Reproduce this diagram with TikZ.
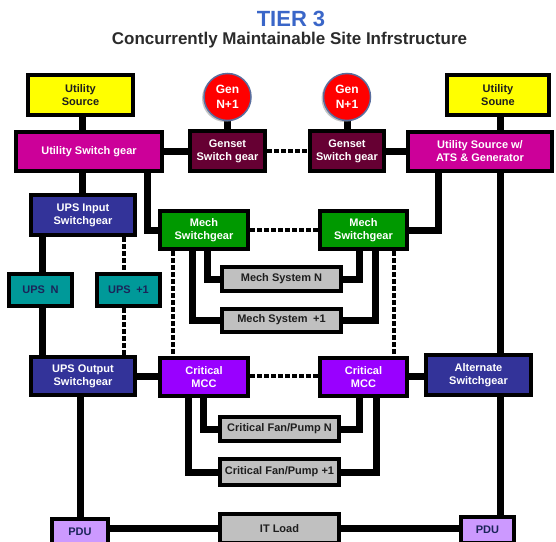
\documentclass[tikz,border=0pt]{standalone}
\usepackage{fontspec}
\setmainfont{Liberation Sans}
\usetikzlibrary{backgrounds,shadows}

\definecolor{tierblue}{HTML}{3A66C8}
\definecolor{subgray}{HTML}{2B2B2B}
\definecolor{srcyellow}{HTML}{FFFF00}
\definecolor{swmagenta}{HTML}{CC0099}
\definecolor{genmaroon}{HTML}{660033}
\definecolor{genred}{HTML}{FF0000}
\definecolor{genrim}{HTML}{5A6E9E}
\definecolor{upsblue}{HTML}{333399}
\definecolor{mechgreen}{HTML}{009900}
\definecolor{upsteal}{HTML}{009999}
\definecolor{loadgray}{HTML}{C0C0C0}
\definecolor{mccpurple}{HTML}{9900FF}
\definecolor{pdulilac}{HTML}{CC99FF}
\definecolor{darktext}{HTML}{1E1E1E}
\definecolor{navytext}{HTML}{1B2459}

\begin{document}
\begin{tikzpicture}[x=1pt,y=-1pt,
  unit/.style={draw=black, line width=4pt, inner sep=1pt, align=center,
    font=\bfseries\fontsize{11}{13}\selectfont, text=white},
  wire/.style={line width=7pt, draw=black},
  dots/.style={line width=4.5pt, draw=black, dash pattern=on 4.5pt off 2.5pt},
  gen/.style={circle, fill=genred, draw=genrim, line width=1.5pt,
    minimum size=47pt, inner sep=0pt, align=center, text=white,
    font=\bfseries\fontsize{12}{15}\selectfont,
    drop shadow={shadow xshift=-2pt, shadow yshift=-1.5pt, opacity=0.45}},
  head/.style={anchor=base, inner sep=0pt}
]
\useasboundingbox (0,0) rectangle (556,541);
\clip (0,0) rectangle (556,541);

% headings
\node[head, text=tierblue, font=\bfseries\fontsize{22}{22}\selectfont] (title) at (291,26) {TIER 3};
\node[head, text=subgray, font=\bfseries\fontsize{17}{17}\selectfont] (subtitle) at (289.5,44)
  {Concurrently Maintainable Site Infrstructure};

% sources and generators
\node[unit, fill=srcyellow, text=darktext, minimum width=105pt, minimum height=40pt] (usrcL) at (80.5,95) {Utility\\Source};
\node[unit, fill=srcyellow, text=darktext, minimum width=102pt, minimum height=40pt] (usrcR) at (498,95) {Utility\\Soune};
\node[gen] (genL) at (227.5,97) {Gen\\N+1};
\node[gen] (genR) at (347,97) {Gen\\N+1};

% switchgear row
\node[unit, fill=swmagenta, minimum width=146pt, minimum height=39pt] (uswL) at (89,151.5) {Utility Switch gear};
\node[unit, fill=genmaroon, minimum width=75pt, minimum height=40pt] (gsL) at (227.5,151) {Genset\\Switch gear};
\node[unit, fill=genmaroon, minimum width=74pt, minimum height=40pt] (gsR) at (347,151) {Genset\\Switch gear};
\node[unit, fill=swmagenta, minimum width=144pt, minimum height=39pt] (uswR) at (480,151.5) {Utility Source w/\\ATS \& Generator};

% UPS and mechanical
\node[unit, fill=upsblue, minimum width=104pt, minimum height=40pt] (upsIn) at (83,215) {UPS Input\\Switchgear};
\node[unit, fill=mechgreen, minimum width=88pt, minimum height=38pt] (mechL) at (204,230) {Mech\\Switchgear};
\node[unit, fill=mechgreen, minimum width=87pt, minimum height=38pt] (mechR) at (363.5,230) {Mech\\Switchgear};
\node[unit, fill=upsteal, text=navytext, minimum width=63pt, minimum height=32pt] (upsN) at (40.5,290) {UPS\enspace N};
\node[unit, fill=upsteal, text=navytext, minimum width=63pt, minimum height=32pt] (upsP) at (128.5,290) {UPS\enspace +1};
\node[unit, fill=loadgray, text=darktext, minimum width=119pt, minimum height=24pt] (msN) at (281.5,279) {Mech System N};
\node[unit, fill=loadgray, text=darktext, minimum width=119pt, minimum height=23pt] (msP) at (281.5,320) {Mech System\enspace +1};

% distribution row
\node[unit, fill=upsblue, minimum width=104pt, minimum height=38pt] (upsOut) at (83,376) {UPS Output\\Switchgear};
\node[unit, fill=mccpurple, minimum width=88pt, minimum height=38pt] (mccL) at (204,377) {Critical\\MCC};
\node[unit, fill=mccpurple, minimum width=87pt, minimum height=38pt] (mccR) at (363.5,377) {Critical\\MCC};
\node[unit, fill=upsblue, minimum width=105pt, minimum height=40pt] (altSw) at (478.5,375) {Alternate\\Switchgear};
\node[unit, fill=loadgray, text=darktext, minimum width=119pt, minimum height=24pt] (fpN) at (279.5,429) {Critical Fan/Pump N};
\node[unit, fill=loadgray, text=darktext, minimum width=119pt, minimum height=26pt] (fpP) at (279.5,472) {Critical Fan/Pump +1};

% loads
\node[unit, fill=pdulilac, text=navytext, minimum width=56pt, minimum height=26pt] (pduL) at (80,532) {PDU};
\node[unit, fill=loadgray, text=darktext, minimum width=119pt, minimum height=29pt] (itLoad) at (279.5,528.5) {IT Load};
\node[unit, fill=pdulilac, text=navytext, minimum width=53pt, minimum height=26pt] (pduR) at (487.5,530) {PDU};

% connector columns
\coordinate (cUtil) at (82,0);
\coordinate (cUps) at (42,0);
\coordinate (cUpsP) at (124,0);
\coordinate (cPdu) at (80,0);
\coordinate (cFeedL) at (147,0);
\coordinate (cFeedR) at (438,0);
\coordinate (cMain) at (500,0);
\coordinate (cDotL) at (173,0);
\coordinate (cDotR) at (394,0);
\coordinate (cML1) at (207,0);
\coordinate (cML2) at (192,0);
\coordinate (cMR1) at (359,0);
\coordinate (cMR2) at (375,0);
\coordinate (cCL1) at (203,0);
\coordinate (cCL2) at (188,0);
\coordinate (cCR1) at (359,0);
\coordinate (cCR2) at (376,0);
% connector rows
\coordinate (rGen) at (0,151);
\coordinate (rMcc) at (0,376);
\coordinate (rIT) at (0,528);

\begin{scope}[on background layer]
  \fill[white] (0,0) rectangle (556,541);

  % utility feeds
  \draw[wire] (usrcL.south -| cUtil) -- (uswL.north -| cUtil);
  \draw[wire] (usrcR.south -| cMain) -- (uswR.north -| cMain);
  \draw[wire] (genL.south) -- (gsL.north);
  \draw[wire] (genR.south) -- (gsR.north);
  \draw[wire] (uswL.east |- rGen) -- (gsL.west |- rGen);
  \draw[wire] (gsR.east |- rGen) -- (uswR.west |- rGen);
  \draw[dots] (gsL.east |- rGen) -- (gsR.west |- rGen);

  % UPS path
  \draw[wire] (uswL.south -| cUtil) -- (upsIn.north -| cUtil);
  \draw[wire] (upsIn.south -| cUps) -- (upsN.north -| cUps);
  \draw[wire] (upsN.south -| cUps) -- (upsOut.north -| cUps);
  \draw[dots] (upsIn.south -| cUpsP) -- (upsP.north -| cUpsP);
  \draw[dots] (upsP.south -| cUpsP) -- (upsOut.north -| cUpsP);
  \draw[wire] (upsOut.south -| cPdu) -- (pduL.north -| cPdu);

  % mechanical feeds
  \draw[wire] (uswL.south -| cFeedL) |- (mechL.west);
  \draw[wire] (uswR.south -| cFeedR) |- (mechR.east);
  \draw[dots] (mechL.east) -- (mechR.west);
  \draw[wire] (mechL.south -| cML1) |- (msN.west);
  \draw[wire] (mechL.south -| cML2) |- (msP.west);
  \draw[wire] (mechR.south -| cMR1) |- (msN.east);
  \draw[wire] (mechR.south -| cMR2) |- (msP.east);
  \draw[dots] (mechL.south -| cDotL) -- (mccL.north -| cDotL);
  \draw[dots] (mechR.south -| cDotR) -- (mccR.north -| cDotR);

  % critical distribution
  \draw[wire] (upsOut.east |- rMcc) -- (mccL.west |- rMcc);
  \draw[wire] (mccR.east |- rMcc) -- (altSw.west |- rMcc);
  \draw[dots] (mccL.east |- rMcc) -- (mccR.west |- rMcc);
  \draw[wire] (mccL.south -| cCL1) |- (fpN.west);
  \draw[wire] (mccL.south -| cCL2) |- (fpP.west);
  \draw[wire] (mccR.south -| cCR1) |- (fpN.east);
  \draw[wire] (mccR.south -| cCR2) |- (fpP.east);

  % alternate path and IT load
  \draw[wire] (uswR.south -| cMain) -- (altSw.north -| cMain);
  \draw[wire] (altSw.south -| cMain) -- (pduR.north -| cMain);
  \draw[wire] (pduL.east |- rIT) -- (itLoad.west |- rIT);
  \draw[wire] (itLoad.east |- rIT) -- (pduR.west |- rIT);
\end{scope}
\end{tikzpicture}
\end{document}
